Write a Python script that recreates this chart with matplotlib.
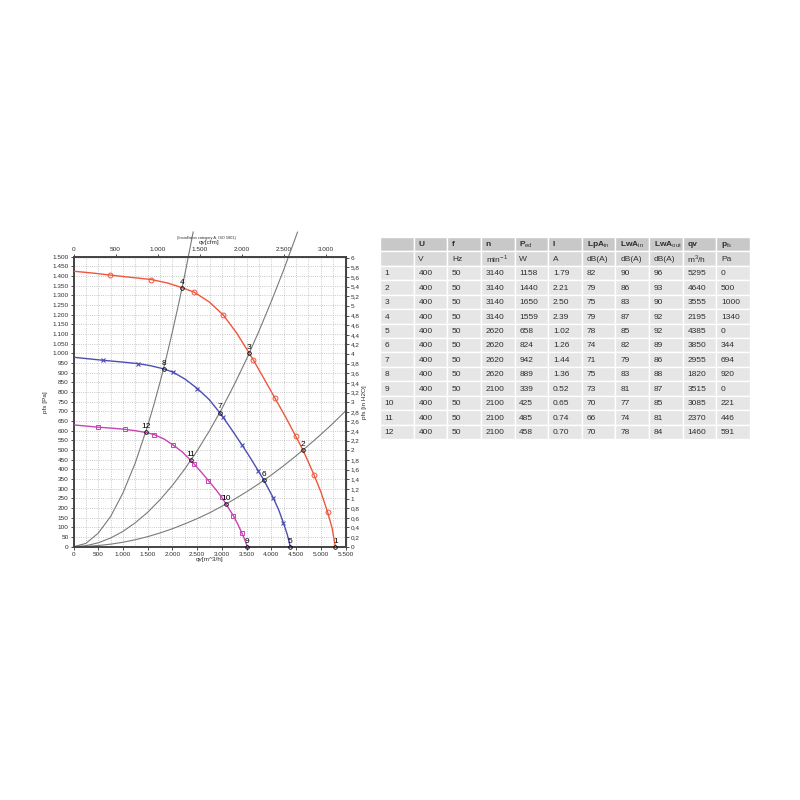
import numpy as np
import matplotlib
matplotlib.use("Agg")
import matplotlib.pyplot as plt
from matplotlib.patches import Rectangle
from matplotlib.ticker import FuncFormatter

plt.rcParams['font.family'] = ['Liberation Sans', 'DejaVu Sans']
plt.rcParams['mathtext.fontset'] = 'custom'
plt.rcParams['mathtext.rm'] = 'Liberation Sans'
plt.rcParams['mathtext.bf'] = 'Liberation Sans:bold'

# --- operating points (table) ---
point_no = [1, 2, 3, 4, 5, 6, 7, 8, 9, 10, 11, 12]
U = [400, 400, 400, 400, 400, 400, 400, 400, 400, 400, 400, 400]
f = [50, 50, 50, 50, 50, 50, 50, 50, 50, 50, 50, 50]
n = [3140, 3140, 3140, 3140, 2620, 2620, 2620, 2620, 2100, 2100, 2100, 2100]
P_ed = [1158, 1440, 1650, 1559, 658, 824, 942, 889, 339, 425, 485, 458]
I = ["1.79", "2.21", "2.50", "2.39", "1.02", "1.26", "1.44", "1.36", "0.52", "0.65", "0.74", "0.70"]
LpA_in = [82, 79, 75, 79, 78, 74, 71, 75, 73, 70, 66, 70]
LwA_in = [90, 86, 83, 87, 85, 82, 79, 83, 81, 77, 74, 78]
LwA_out = [96, 93, 90, 92, 92, 89, 86, 88, 87, 85, 81, 84]
qv = [5295, 4640, 3555, 2195, 4385, 3850, 2955, 1820, 3515, 3085, 2370, 1460]
p_fs = [0, 500, 1000, 1340, 0, 344, 694, 920, 0, 221, 446, 591]

# --- fan curves (m3/h, Pa) ---
red_q = [0, 400, 741, 1100, 1570, 1900, 2195, 2444, 2750, 3030, 3300, 3555, 3636, 3850,
         4075, 4290, 4493, 4640, 4863, 5000, 5139, 5230, 5295]
red_p = [1425, 1415, 1405, 1395, 1382, 1364, 1340, 1316, 1265, 1198, 1105, 1000, 966, 870,
         768, 670, 572, 500, 372, 285, 178, 95, 0]
red_mq = [741, 1570, 2444, 3030, 3636, 4075, 4493, 4863, 5139]
red_mp = [1405, 1382, 1316, 1198, 966, 768, 572, 372, 178]

blue_q = [0, 300, 606, 950, 1301, 1560, 1820, 2020, 2260, 2505, 2740, 2955, 3018, 3200,
          3402, 3570, 3737, 3850, 4040, 4150, 4242, 4320, 4385]
blue_p = [980, 972, 964, 956, 947, 936, 920, 902, 866, 818, 762, 694, 672, 605,
          528, 462, 392, 344, 252, 190, 125, 65, 0]
blue_mq = [606, 1301, 2020, 2505, 3018, 3402, 3737, 4040, 4242]
blue_mp = [964, 947, 902, 818, 672, 528, 392, 252, 125]

mag_q = [0, 250, 505, 780, 1044, 1250, 1460, 1630, 1830, 2020, 2200, 2370, 2438, 2590,
         2727, 2870, 2998, 3085, 3232, 3320, 3402, 3460, 3515]
mag_p = [630, 624, 618, 613, 607, 600, 591, 580, 557, 525, 490, 446, 428, 384,
         342, 298, 255, 221, 160, 118, 72, 38, 0]
mag_mq = [505, 1044, 1630, 2020, 2438, 2727, 2998, 3232, 3402]
mag_mp = [618, 607, 580, 525, 428, 342, 255, 160, 72]

# --- system curves ---
sysA_q = [0, 250, 500, 750, 1000, 1250, 1500, 1625, 1750, 1875, 2000, 2125, 2250, 2420]
sysA_p = [0, 17, 70, 156, 278, 434, 626, 734, 851, 977, 1112, 1255, 1407, 1628]
sysB_q = [0, 250, 500, 750, 1000, 1250, 1500, 1750, 2000, 2250, 2500, 2750, 3000, 3250,
          3500, 3750, 4000, 4250, 4530]
sysB_p = [0, 5, 20, 45, 79, 124, 178, 243, 317, 402, 496, 600, 714, 838,
          971, 1115, 1269, 1432, 1627]
sysC_q = [0, 250, 500, 750, 1000, 1250, 1500, 1750, 2000, 2250, 2500, 2750, 3000, 3250,
          3500, 3750, 4000, 4250, 4500, 4750, 5000, 5250, 5500]
sysC_p = [0, 1.5, 6, 13, 23, 36, 52, 71, 93, 118, 145, 175, 209, 245,
          284, 326, 371, 419, 470, 524, 580, 639, 702]

M3H_TO_CFM = 0.588578
PA_PER_INH2O = 249.089

RED = '#f0563a'
BLUE = '#4b4fb3'
MAG = '#c844b4'
GRAY = '#7a7a7a'
TXT = '#2e2e2e'
TICK_FS = 4.6


def thousands(v, pos=None):
    return f"{v:,.0f}".replace(",", ".")


def decimal_comma(v, pos=None):
    s = f"{v:.1f}"
    if s.endswith(".0"):
        s = s[:-2]
    return s.replace(".", ",").replace("-", "")


fig = plt.figure(figsize=(8, 8), dpi=100)
ax = fig.add_axes([73.5 / 800, 1 - 546.7 / 800, 272 / 800, 290 / 800])
ax.set_xlim(0, 5500)
ax.set_ylim(0, 1500)
ax.set_xticks(np.arange(0, 5501, 500))
ax.set_xticks(np.arange(0, 5501, 250), minor=True)
ax.set_yticks(np.arange(0, 1501, 50))
ax.xaxis.set_major_formatter(FuncFormatter(thousands))
ax.yaxis.set_major_formatter(FuncFormatter(thousands))
ax.grid(which='both', linestyle=':', color='#b8b8b8', linewidth=0.6)
ax.tick_params(labelsize=TICK_FS, length=2, width=0.6, pad=1.5, colors=TXT)
ax.tick_params(which='minor', length=0)
for sp in ax.spines.values():
    sp.set_linewidth(1.4)
    sp.set_color('#444444')

# system curves (extend above the frame like the original)
for q, p in [(sysA_q, sysA_p), (sysB_q, sysB_p), (sysC_q, sysC_p)]:
    ax.plot(q, p, color=GRAY, lw=0.8, clip_on=False, zorder=2)

ax.plot(red_q, red_p, color=RED, lw=1.0, zorder=3)
ax.plot(red_mq, red_mp, 'o', ms=3.5, mfc='none', mec=RED, mew=0.7, zorder=4)
ax.plot(blue_q, blue_p, color=BLUE, lw=1.0, zorder=3)
ax.plot(blue_mq, blue_mp, 'x', ms=3.5, color=BLUE, mew=0.8, zorder=4)
ax.plot(mag_q, mag_p, color=MAG, lw=1.0, zorder=3)
ax.plot(mag_mq, mag_mp, 's', ms=3.2, mfc='none', mec=MAG, mew=0.7, zorder=4)

# operating points
ax.plot(qv, p_fs, 'o', ms=2.6, mfc='none', mec='black', mew=0.6, zorder=5, clip_on=False)
for k, q, p in zip(point_no, qv, p_fs):
    ax.annotate(str(k), (q, p), xytext=(0, 1.5), textcoords='offset points',
                ha='center', va='bottom', fontsize=6, color='black', zorder=6)

ax.set_xlabel("qv[m^3/h]", fontsize=TICK_FS, color=TXT, labelpad=1)
ax.xaxis.set_label_coords(0.5, -0.035)
ax.set_ylabel("pfs [Pa]", fontsize=TICK_FS, color=TXT, labelpad=3)

# top axis in cfm
top = ax.secondary_xaxis('top', functions=(lambda q: q * M3H_TO_CFM, lambda c: c / M3H_TO_CFM))
top.set_xticks(np.arange(0, 3001, 500))
top.xaxis.set_major_formatter(FuncFormatter(thousands))
top.tick_params(labelsize=TICK_FS, length=2, width=0.6, pad=1.5, colors=TXT)
top.set_xlabel("qv[cfm]", fontsize=TICK_FS, color=TXT, labelpad=2)
fig.text(207 / 800, 1 - 238 / 800, "(Installation category A, ISO 5801)", fontsize=2.8,
         color=TXT, ha='center', va='center')

# right axis in inH2O
right = ax.secondary_yaxis('right', functions=(lambda p: p / PA_PER_INH2O, lambda h: h * PA_PER_INH2O))
right.set_yticks(np.arange(0, 6.01, 0.2))
right.yaxis.set_major_formatter(FuncFormatter(decimal_comma))
right.tick_params(labelsize=TICK_FS, length=2, width=0.6, pad=1.5, colors=TXT)
right.set_ylabel("pfs [in H2O]", fontsize=TICK_FS, color=TXT, labelpad=2)

# --- table ---
headers = ["", "U", "f", "n", r"P$_{\mathrm{ed}}$", "I", r"LpA$_{\mathrm{in}}$",
           r"LwA$_{\mathrm{in}}$", r"LwA$_{\mathrm{out}}$", "qv", r"p$_{\mathrm{fs}}$"]
units = ["", "V", "Hz", r"min$^{-1}$", "W", "A", "dB(A)", "dB(A)", "dB(A)", r"m$^3$/h", "Pa"]
rows = [[str(c) for c in r] for r in zip(point_no, U, f, n, P_ed, I, LpA_in, LwA_in, LwA_out, qv, p_fs)]

tx0, tx1, ty0, ty1 = 380, 750, 237, 439
tab = fig.add_axes([tx0 / 800, 1 - ty1 / 800, (tx1 - tx0) / 800, (ty1 - ty0) / 800])
ncol, nrow = len(headers), len(rows) + 2
tab.set_xlim(0, ncol)
tab.set_ylim(nrow, 0)
tab.axis('off')
for r in range(nrow):
    if r == 0:
        bg, cells, weight = '#c8c8c8', headers, 'bold'
    elif r == 1:
        bg, cells, weight = '#d9d9d9', units, 'normal'
    else:
        bg, cells, weight = '#e6e6e6', rows[r - 2], 'normal'
    for c in range(ncol):
        tab.add_patch(Rectangle((c, r), 1, 1, facecolor=bg, edgecolor='white', lw=1.0))
        tab.text(c + 0.14, r + 0.55, cells[c], fontsize=6, color=TXT, fontweight=weight,
                 ha='left', va='center', family=['Liberation Sans Narrow', 'Liberation Sans'])

fig.savefig("out.png", dpi=100, facecolor='white')
